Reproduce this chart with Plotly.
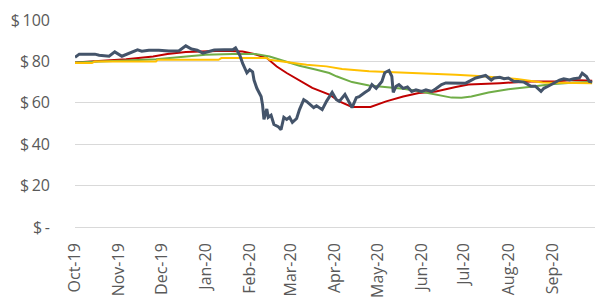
import plotly.graph_objects as go

price_dates = ["2019-10-01","2019-10-04","2019-10-15","2019-10-18","2019-10-25","2019-10-29","2019-11-03","2019-11-08","2019-11-14","2019-11-17","2019-11-22","2019-11-29","2019-12-06","2019-12-13","2019-12-18","2019-12-22","2019-12-26","2019-12-30","2020-01-07","2020-01-14","2020-01-20","2020-01-22","2020-01-25","2020-01-27","2020-01-30","2020-02-01","2020-02-03","2020-02-04","2020-02-06","2020-02-09","2020-02-10","2020-02-11","2020-02-13","2020-02-14","2020-02-16","2020-02-18","2020-02-21","2020-02-23","2020-02-25","2020-02-27","2020-02-29","2020-03-02","2020-03-05","2020-03-07","2020-03-10","2020-03-12","2020-03-15","2020-03-17","2020-03-19","2020-03-23","2020-03-26","2020-03-30","2020-04-02","2020-04-04","2020-04-08","2020-04-11","2020-04-13","2020-04-16","2020-04-18","2020-04-22","2020-04-25","2020-04-27","2020-04-30","2020-05-04","2020-05-06","2020-05-09","2020-05-11","2020-05-12","2020-05-14","2020-05-16","2020-05-19","2020-05-22","2020-05-25","2020-05-28","2020-06-01","2020-06-04","2020-06-08","2020-06-11","2020-06-15","2020-06-18","2020-06-22","2020-06-25","2020-07-02","2020-07-09","2020-07-13","2020-07-16","2020-07-20","2020-07-22","2020-07-26","2020-07-29","2020-08-01","2020-08-05","2020-08-08","2020-08-12","2020-08-17","2020-08-20","2020-08-24","2020-08-26","2020-08-29","2020-09-02","2020-09-06","2020-09-09","2020-09-13","2020-09-16","2020-09-20","2020-09-22","2020-09-25","2020-09-27","2020-09-29"]
price_values = [82,83.5,83.5,83,82.5,84.6,82.5,84,85.6,84.9,85.4,85.4,85,85,87.5,86,85.4,84,85.5,85.6,85.6,86.5,83,79,74.5,76,75,71,67,63,59,52,57,53,54,49.5,48.5,47,53,52,53,50.5,52.4,56.7,61.5,60.7,59,57.7,58.6,56.7,60.7,65,61.5,60.7,64,60,57.7,62.5,63,65,66.3,68.8,67,70.3,74.5,75.6,72.8,65,68,68.8,67,67.7,65.5,66.3,65.5,66.3,65.5,66.8,68.8,69.6,69.6,69.5,69.5,72,72.7,73.2,71,72,72.3,71.6,72,70.3,70.3,70,68,68,65.5,67,68,69.5,71,71.6,71,71.6,72,74.3,72.7,70.3,70]

ma50_dates = ["2019-10-01","2019-10-11","2019-11-06","2019-11-25","2019-12-05","2019-12-18","2020-01-01","2020-01-14","2020-01-27","2020-02-04","2020-02-13","2020-02-20","2020-02-27","2020-03-07","2020-03-16","2020-03-28","2020-04-04","2020-04-13","2020-04-26","2020-05-07","2020-05-19","2020-05-30","2020-06-11","2020-06-25","2020-07-04","2020-07-26","2020-08-17","2020-09-03","2020-09-15","2020-09-29"]
ma50_values = [79.5,80,81,82.4,83.6,84.5,84.8,85.2,84.8,83.6,81.6,77.5,74.4,71,67.2,64,60.7,58,58,60.7,63,64.7,65.5,67.6,68.8,69.5,70.3,70.3,71,70.6]

ma100_dates = ["2019-10-01","2019-10-18","2019-11-10","2019-11-27","2019-12-13","2019-12-25","2020-01-01","2020-01-20","2020-02-05","2020-02-15","2020-02-27","2020-03-07","2020-03-19","2020-03-28","2020-04-02","2020-04-13","2020-04-25","2020-05-07","2020-05-19","2020-05-30","2020-06-11","2020-06-22","2020-06-29","2020-07-06","2020-07-18","2020-08-01","2020-08-17","2020-08-31","2020-09-17","2020-09-29"]
ma100_values = [79.5,79.8,80.5,81,82,82.7,83.2,83.6,83.6,82.4,79.7,77.9,76,74.4,72.8,70,68.4,67.6,66.8,65.6,64,62.5,62.4,63,65,66.6,67.8,69,69.8,70]

ma200_dates = ["2019-10-01","2019-10-13","2019-10-15","2019-11-27","2019-11-28","2020-01-10","2020-01-12","2020-02-13","2020-02-15","2020-02-29","2020-03-12","2020-03-26","2020-04-06","2020-04-25","2020-05-19","2020-06-06","2020-06-25","2020-07-14","2020-08-07","2020-08-25","2020-09-11","2020-09-29"]
ma200_values = [79.2,79.2,80,80,80.8,80.8,81.6,81.6,80.8,79.6,78.4,77.6,76.3,75.2,74.7,74,73.6,72.8,71.5,69.8,69.5,69.5]

month_ticks = ["2019-10-01","2019-11-01","2019-12-01","2020-01-01","2020-02-01","2020-03-01","2020-04-01","2020-05-01","2020-06-01","2020-07-01","2020-08-01","2020-09-01"]
month_labels = ["Oct-19","Nov-19","Dec-19","Jan-20","Feb-20","Mar-20","Apr-20","May-20","Jun-20","Jul-20","Aug-20","Sep-20"]
y_ticks = [0,20,40,60,80,100]
y_labels = ["$\u2009-","$\u200920","$\u200940","$\u200960","$\u200980","$\u2009100"]

fig = go.Figure()
fig.add_trace(go.Scatter(x=ma50_dates, y=ma50_values, mode="lines", line=dict(color="#C00000", width=2)))
fig.add_trace(go.Scatter(x=ma100_dates, y=ma100_values, mode="lines", line=dict(color="#70AD47", width=2)))
fig.add_trace(go.Scatter(x=ma200_dates, y=ma200_values, mode="lines", line=dict(color="#FFC000", width=2)))
fig.add_trace(go.Scatter(x=price_dates, y=price_values, mode="lines", line=dict(color="#44546A", width=3)))

font_family = "Open Sans"
fig.update_layout(
    width=595, height=297,
    margin=dict(l=75, r=0, t=20, b=70),
    paper_bgcolor="white", plot_bgcolor="white",
    showlegend=False,
    font=dict(family=font_family, size=16, color="#595959"),
)
fig.update_xaxes(
    type="date", range=["2019-10-01", "2020-10-01"], automargin=False,
    tickvals=month_ticks, ticktext=month_labels, tickangle=-90,
    showgrid=False, showline=False, zeroline=False, ticks="",
    tickfont=dict(family=font_family, size=16, color="#595959"),
    ticklabelstandoff=12,
)
fig.update_yaxes(
    range=[0, 100], tickvals=y_ticks, ticktext=y_labels, automargin=False,
    showgrid=True, gridcolor="#D9D9D9", gridwidth=1,
    zeroline=True, zerolinecolor="#D9D9D9", zerolinewidth=1,
    showline=False, ticks="",
    tickfont=dict(family=font_family, size=16, color="#595959"),
    ticklabelstandoff=24,
)
fig.write_html("out.html", config={"displayModeBar": False},
               post_script="document.body.style.margin='0';document.body.style.overflow='hidden';")
